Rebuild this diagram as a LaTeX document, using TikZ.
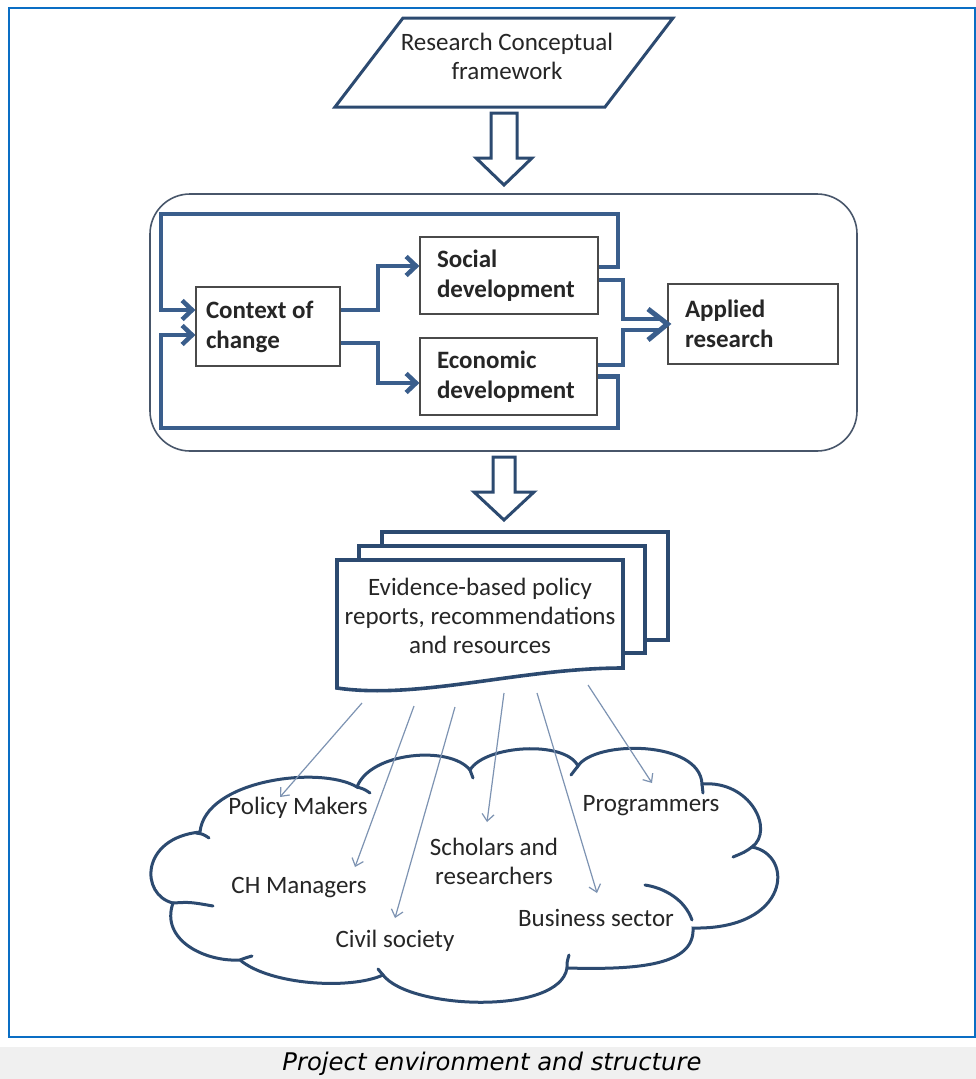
\documentclass[tikz,border=0pt]{standalone}
\usepackage{fontspec}
\setmainfont{Carlito}
\newfontfamily\capfont{DejaVu Sans}
\usetikzlibrary{arrows.meta,calc}
\definecolor{frameblue}{HTML}{0A6EC4}
\definecolor{linecol}{HTML}{3A5E8C}
\definecolor{shapecol}{HTML}{2C4A70}
\definecolor{boxgray}{HTML}{4A4A4A}
\definecolor{rrgray}{HTML}{48566A}
\definecolor{thinarr}{HTML}{7D93B2}
\definecolor{txt}{HTML}{262626}
\definecolor{capbg}{HTML}{F0F0F0}
\begin{document}
\begin{tikzpicture}[x=1pt,y=-1pt,
  innerbox/.style={draw=boxgray, line width=1.2pt, fill=white, align=flush left,
    font=\fontsize{25}{30}\selectfont\bfseries, text=txt, inner xsep=17pt, inner ysep=0pt},
  conn/.style={draw=linecol, line width=4.5pt, line join=miter},
  connarrow/.style={conn, -{Straight Barb[length=10pt,width=19pt]}},
  hollow/.style={draw=shapecol, line width=3pt, fill=white, line join=miter},
  docsheet/.style={draw=shapecol, line width=3.6pt, fill=white, line join=miter},
  thinarrow/.style={draw=thinarr, line width=1.2pt, -{Straight Barb[length=7pt,width=12pt]}},
  cloudline/.style={draw=shapecol, line width=3pt, line cap=round},
  lbl/.style={font=\fontsize{25}{29}\selectfont, text=txt, align=center}
]
\useasboundingbox (0,0) rectangle (976,1079);
% caption band and frame
\fill[capbg] (0,1047) rectangle (976,1079);
\draw[frameblue, line width=2.6pt] (9,8) rectangle (975,1037);
\node[font=\capfont\itshape\fontsize{24.3}{28}\selectfont, text=black] (caption) at (492,1064) {Project environment and structure};

% parallelogram
\draw[hollow] (403,18) -- (673,18) -- (605,107) -- (335,107) -- cycle;
\node[lbl] (rcf) at (507,56) {Research Conceptual\\framework};

% hollow arrow 1
\draw[hollow] (491,113) -- (517,113) -- (517,158) -- (532,158) -- (504,185) -- (476,158) -- (491,158) -- cycle;

% container
\node[draw=rrgray, line width=1.6pt, rounded corners=40pt, minimum width=707pt, minimum height=257pt, inner sep=0pt] (container) at (503.5,322.5) {};

% inner boxes
\node[innerbox, text width=124pt, inner xsep=10pt, minimum height=79pt] (context) at (268,326.5) {Context of\\change};
\node[innerbox, text width=144pt, minimum height=77pt] (social) at (509,275.5) {Social\\development};
\node[innerbox, text width=143pt, minimum height=77pt] (economic) at (508.5,376.5) {Economic\\development};
\node[innerbox, text width=136pt, minimum height=80pt] (applied) at (753,324) {Applied\\research};

% connectors
\draw[connarrow] ([yshift=16.5pt]context.east) -- (378,310) -- (378,266) -- ([yshift=9.5pt]social.west);
\draw[connarrow] ([yshift=-16.5pt]context.east) -- (378,343) -- (378,383) -- ([yshift=-6.5pt]economic.west);
\draw[connarrow] ([yshift=8.5pt]social.east) -- (618,267) -- (618,214) -- (161,214) -- (161,310) -- ([yshift=16.5pt]context.west);
\draw[connarrow] (economic.east) -- (618,376.5) -- (618,428) -- (161,428) -- (161,335) -- ([yshift=-8.5pt]context.west);
\coordinate (m1) at (660,319);
\coordinate (m2) at (660,330);
\draw[conn] ([yshift=-4.5pt]social.east) -- (623,280) -- (623,319) -- (m1);
\draw[conn] ([yshift=11.5pt]economic.east) -- (623,365) -- (623,330) -- (m2);
\draw[conn, line width=5pt] (648,309) -- (applied.west) -- (648,340);

% hollow arrow 2
\draw[hollow] (493,457) -- (515,457) -- (515,492) -- (534,492) -- (504,520) -- (474,492) -- (493,492) -- cycle;

% documents
\draw[docsheet] (382,532) rectangle (668,640);
\draw[docsheet] (359,546) rectangle (645,653);
\draw[docsheet] (337,560) -- (623,560) -- (623,668) .. controls (520,668) and (420,700) .. (337,688) -- cycle;
\node[lbl] (docs) at (480,616) {Evidence-based policy\\reports, recommendations\\and resources};

% cloud
\draw[cloudline, fill=white]
  (240,960) .. controls (205,962) and (160,940) .. (173,903)
  .. controls (140,895) and (140,838) .. (200,832)
  .. controls (205,780) and (320,765) .. (357,787)
  .. controls (370,752) and (450,745) .. (470,770)
  .. controls (485,745) and (565,740) .. (578,766)
  .. controls (595,740) and (700,740) .. (702,784)
  .. controls (750,780) and (775,830) .. (752,847)
  .. controls (795,855) and (790,930) .. (693,928)
  .. controls (695,965) and (640,970) .. (567,968)
  .. controls (560,1015) and (410,1010) .. (383,975)
  .. controls (350,990) and (270,985) .. (240,960) -- cycle;
% cloud ticks
\draw[cloudline] (173,903) .. controls (190,902) .. (213,906);
\draw[cloudline] (196,833) .. controls (203,834) .. (209,838);
\draw[cloudline] (357,787) .. controls (364,789) .. (370,793);
\draw[cloudline] (470,770) .. controls (472,774) .. (473,778);
\draw[cloudline] (578,766) .. controls (575,770) .. (571,775);
\draw[cloudline] (702,784) .. controls (703,788) .. (703,793);
\draw[cloudline] (752,847) .. controls (745,852) .. (733,857);
\draw[cloudline] (692,920) .. controls (685,900) and (665,888) .. (645,885);
\draw[cloudline] (567,968) .. controls (567,962) .. (569,955);
\draw[cloudline] (383,975) .. controls (381,972) .. (378,969);
\draw[cloudline] (240,960) .. controls (245,958) .. (252,956);

% cloud labels
\node[lbl] (policy) at (298,808) {Policy Makers};
\node[lbl] (chm) at (299,888) {CH Managers};
\node[lbl] (civil) at (395,941) {Civil society};
\node[lbl] (scholars) at (494,861) {Scholars and\\researchers};
\node[lbl] (prog) at (651,806) {Programmers};
\node[lbl] (business) at (596,918) {Business sector};

% thin arrows
\coordinate (s1) at (362,703); \coordinate (e1) at (280,797);
\coordinate (s2) at (414,706); \coordinate (e2) at (355,867);
\coordinate (s3) at (455,707); \coordinate (e3) at (395,918);
\coordinate (s4) at (504,693); \coordinate (e4) at (487,822);
\coordinate (s5) at (537,693); \coordinate (e5) at (597,893);
\coordinate (s6) at (588,685); \coordinate (e6) at (652,783);
\draw[thinarrow] (s1) -- (e1);
\draw[thinarrow] (s2) -- (e2);
\draw[thinarrow] (s3) -- (e3);
\draw[thinarrow] (s4) -- (e4);
\draw[thinarrow] (s5) -- (e5);
\draw[thinarrow] (s6) -- (e6);
\end{tikzpicture}
\end{document}
